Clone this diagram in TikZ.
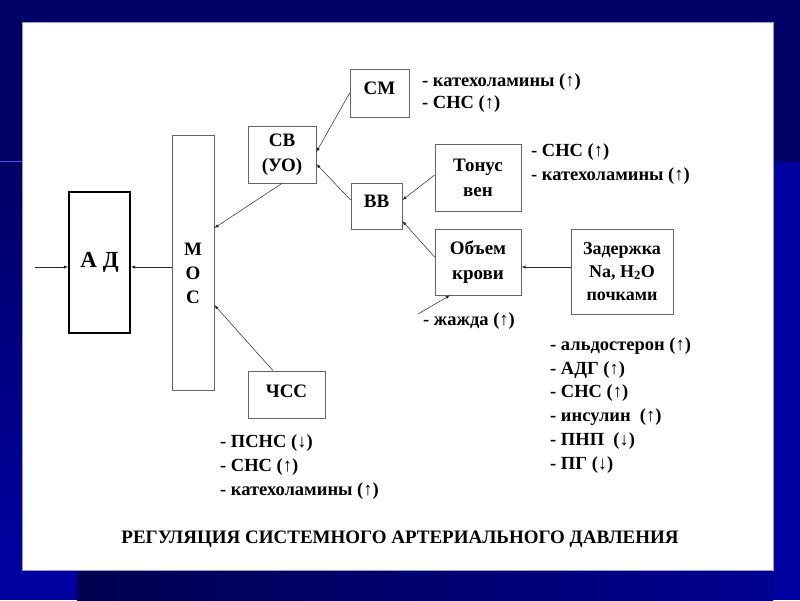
\documentclass[tikz,border=0pt]{standalone}
\usepackage{fontspec}
\setmainfont{Liberation Serif}
\usetikzlibrary{arrows}
\definecolor{slidenavy}{RGB}{0,0,102}
\definecolor{slideblue}{RGB}{0,0,160}
\definecolor{slidedark}{RGB}{0,0,80}
\definecolor{slideline}{RGB}{50,90,230}
\definecolor{boxgray}{RGB}{100,100,100}

\begin{document}
\begin{tikzpicture}[x=1pt,y=-1pt,>=latex,
	box/.style={draw=boxgray,line width=0.7pt,inner sep=0pt,align=center,font=\fontsize{19}{25}\selectfont\bfseries},
	note/.style={anchor=base west,inner sep=0pt,align=left,font=\fontsize{18.5}{23.7}\selectfont\bfseries},
	link/.style={->,line width=0.5pt,black!85}]
		% slide background
		\useasboundingbox (0,0) rectangle (800,600);
		\fill[slidenavy] (0,0) rectangle (800,600);
		\fill[slideblue] (773,162) rectangle (800,600);
		\shade[top color=slidenavy,bottom color=slideblue] (0,162) rectangle (22,570);
		\fill[slideblue] (0,570) rectangle (77,600);
		\shade[left color=slidedark,right color=slideblue!90!black] (77,570) rectangle (773,600);
		\draw[slideline,line width=1pt] (0,161) -- (22,161);
		\filldraw[fill=white,draw=black!40!blue!40] (22,22) rectangle (773,570);

		% boxes
		\node[box,draw=black,line width=1.5pt,minimum width=61,minimum height=141,font=\fontsize{23}{28}\selectfont\bfseries] (ad) at (99.5,262.5) {А Д};
		\node[box,minimum width=42,minimum height=255,label={[yshift=-11pt,align=center,font=\fontsize{19}{24}\selectfont\bfseries]center:М\\О\\С}] (mos) at (193,262.5) {};
		\node[box,minimum width=68,minimum height=57] (sv) at (282,154.5) {СВ\\(УО)};
		\node[box,minimum width=59,minimum height=48,text depth=9pt] (sm) at (379.5,93) {СМ};
		\node[box,minimum width=51,minimum height=46,text depth=10pt] (vv) at (376.5,206) {ВВ};
		\node[box,minimum width=86,minimum height=67] (tonus) at (478,177.5) {Тонус\\вен};
		\node[box,minimum width=86,minimum height=66] (obem) at (478,262) {Объем\\крови};
		\node[box,minimum width=102,minimum height=85,font=\fontsize{18}{23}\selectfont\bfseries] (zad) at (622,271.5) {Задержка\\Na, H\textsubscript{2}O\\почками};
		\node[box,minimum width=77,minimum height=47,text depth=7pt] (chss) at (286.5,394.5) {ЧСС};
		\coordinate (in) at (35,267);
		\coordinate (thirst) at (418,314);

		% arrows
		\draw[link] (in) -- ([yshift=-4.5pt]ad.west);
		\draw[link] ([yshift=-4.5pt]mos.west) -- ([yshift=-4.5pt]ad.east);
		\draw[link] (sv.south) -- ([yshift=34.5pt]mos.east);
		\draw[link] (sm.west) -- ([yshift=2.5pt]sv.east);
		\draw[link] ([yshift=6pt]vv.west) -- ([yshift=-9.5pt]sv.east);
		\draw[link] ([yshift=2.5pt]tonus.west) -- ([yshift=6pt]vv.east);
		\draw[link] ([yshift=5pt]obem.west) -- ([yshift=-15pt]vv.east);
		\draw[link] ([yshift=4.5pt]zad.west) -- ([yshift=-5pt]obem.east);
		\draw[link] (thirst) -- ([xshift=-28pt]obem.south);
		\draw[link] ([xshift=-13.5pt]chss.north) -- ([yshift=-42.5pt]mos.east);

		% factors (base = last line)
		\node[note,font=\fontsize{18.5}{22}\selectfont\bfseries] (smnote) at (422,108) {- катехоламины (↑)\\- СНС (↑)};
		\node[note] (tonusnote) at (531,180) {- СНС (↑)\\- катехоламины (↑)};
		\node[note] (thirstnote) at (423,325) {- жажда (↑)};
		\node[note] (zadnote) at (550,469) {- альдостерон (↑)\\- АДГ (↑)\\- СНС (↑)\\- инсулин~ (↑)\\- ПНП~ (↓)\\- ПГ (↓)};
		\node[note] (chssnote) at (220,495) {- ПСНС (↓)\\- СНС (↑)\\- катехоламины (↑)};
		\node[anchor=base,inner sep=0pt,font=\fontsize{19}{23}\selectfont\bfseries] (title) at (400,543) {РЕГУЛЯЦИЯ СИСТЕМНОГО АРТЕРИАЛЬНОГО ДАВЛЕНИЯ};
	\end{tikzpicture}
\end{document}
